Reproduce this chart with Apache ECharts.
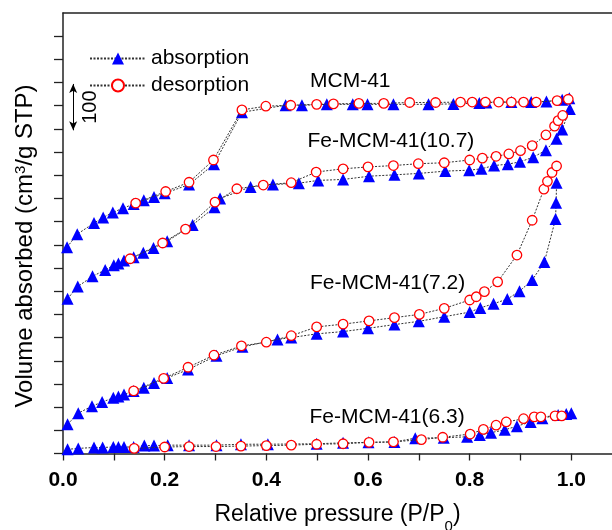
<!DOCTYPE html>
<html>
<head>
<meta charset="utf-8">
<script src="https://cdn.jsdelivr.net/npm/echarts@6/dist/echarts.min.js"></script>
<style>
  html, body { margin: 0; padding: 0; background: #ffffff; }
  #chart { width: 612px; height: 530px; }
</style>
</head>
<body>
<div id="chart"></div>
<script>
// N2 isotherms, curves offset vertically (cm3/g STP, offset included)
const sampleNames = ['MCM-41', 'Fe-MCM-41(10.7)', 'Fe-MCM-41(7.2)', 'Fe-MCM-41(6.3)'];

// MCM-41
const mcmAdsP = [0.008,0.028,0.061,0.079,0.098,0.118,0.139,0.159,0.179,0.200,0.248,0.297,0.352,0.438,0.470,0.519,0.570,0.599,0.650,0.719,0.768,0.819,0.833,0.882,0.921,0.951,0.982,0.996];
const mcmAdsV = [445,473,497,509,520,529,538,546,553,561,580,624,736,751,751,753,753,753,753,753,754,756,757,758,758,759,763,766];
const mcmDesP = [0.143,0.202,0.248,0.296,0.352,0.399,0.448,0.499,0.532,0.582,0.631,0.682,0.733,0.782,0.805,0.831,0.857,0.882,0.906,0.931,0.972,0.994];
const mcmDesV = [540,565,585,633,741,749,751,753,754,755,755,757,757,758,758,758,758,758,758,758,761,764];

// Fe-MCM-41(10.7)
const fe107AdsP = [0.009,0.029,0.058,0.083,0.100,0.109,0.120,0.139,0.158,0.178,0.205,0.255,0.298,0.309,0.369,0.413,0.464,0.502,0.551,0.602,0.652,0.700,0.752,0.799,0.823,0.848,0.875,0.899,0.925,0.950,0.971,0.982,0.997];
const fe107AdsV = [334,360,382,396,406,410,416,423,433,443,458,493,531,550,575,580,583,589,591,598,601,604,609,611,614,621,624,629,639,654,679,699,743];
const fe107DesP = [0.132,0.196,0.241,0.299,0.342,0.394,0.449,0.498,0.551,0.600,0.650,0.699,0.750,0.800,0.825,0.852,0.877,0.900,0.923,0.950,0.967,0.974,0.983];
const fe107DesV = [420,454,484,542,571,579,584,607,614,618,621,625,627,633,637,641,646,653,664,687,706,718,729];

// Fe-MCM-41(7.2)
const fe72AdsP = [0.009,0.030,0.057,0.077,0.099,0.109,0.120,0.139,0.159,0.179,0.205,0.246,0.302,0.353,0.422,0.449,0.499,0.551,0.600,0.652,0.700,0.750,0.800,0.821,0.847,0.874,0.898,0.923,0.947,0.969,0.970,0.971];
const fe72AdsV = [63,87,102,111,120,123,127,135,142,152,163,181,211,230,246,250,258,263,270,278,285,295,305,314,323,333,350,374,413,506,541,584];
const fe72DesP = [0.139,0.198,0.246,0.297,0.351,0.400,0.449,0.499,0.551,0.602,0.652,0.701,0.750,0.800,0.813,0.829,0.855,0.893,0.923,0.946,0.953,0.962,0.971];
const fe72DesV = [135,162,186,212,232,240,254,273,279,286,293,300,313,331,338,349,370,428,503,570,587,606,620];

// Fe-MCM-41(6.3)
const fe63AdsP = [0.009,0.030,0.061,0.078,0.099,0.109,0.120,0.139,0.160,0.179,0.206,0.248,0.302,0.350,0.403,0.499,0.551,0.601,0.652,0.693,0.749,0.795,0.820,0.842,0.869,0.893,0.920,0.943,0.974,0.990,1.000];
const fe63AdsV = [9,11,13,13,14,14,14,14,17,17,18,18,18,20,20,21,23,24,25,33,34,36,40,45,51,59,68,76,83,85,87];
const fe63DesP = [0.140,0.200,0.248,0.301,0.350,0.400,0.449,0.499,0.551,0.602,0.650,0.705,0.747,0.801,0.827,0.852,0.872,0.906,0.927,0.940,0.968,0.981];
const fe63DesV = [11,14,15,15,16,17,18,20,21,24,25,30,35,42,52,61,68,75,79,79,81,81];

const xTickLabels = ['0.0', '0.2', '0.4', '0.6', '0.8', '1.0'];
const yTickValues = [0,50,100,150,200,250,300,350,400,450,500,550,600,650,700,750,800,850,900];
const scaleBarValue = 100;

const FONT = "'Liberation Sans', Arial, Helvetica, sans-serif";
const AXIS_COLOR = '#222';

function pairs(p, v) { return p.map((x, i) => [x, v[i]]); }

const lineStyle = { color: '#333333', width: 1, type: [2, 1.5] };

function adsSeries(p, v, extra) {
  return Object.assign({
    name: 'absorption', type: 'line', data: pairs(p, v),
    symbol: 'triangle', symbolSize: 12, showAllSymbol: true,
    itemStyle: { color: '#0000ff' }, lineStyle: lineStyle, z: 3
  }, extra || {});
}
function desSeries(p, v) {
  return {
    name: 'desorption', type: 'line', data: pairs(p, v),
    symbol: 'circle', symbolSize: 9.5, showAllSymbol: true,
    itemStyle: { color: '#ffffff', borderColor: '#ff0000', borderWidth: 1.3 },
    lineStyle: lineStyle, z: 4
  };
}

const chart = echarts.init(document.getElementById('chart'), null, { renderer: 'canvas' });

const option = {
  animation: false,
  backgroundColor: '#ffffff',
  grid: { left: 63, top: 13, width: 549.7, height: 440.5, containLabel: false },
  legend: {
    data: ['absorption', 'desorption'],
    orient: 'vertical', left: 84, top: 43, padding: 5,
    itemWidth: 56, itemHeight: 15, itemGap: 6,
    textStyle: { fontFamily: FONT, fontSize: 21, color: '#000', lineHeight: 21 },
    selectedMode: false
  },
  xAxis: [{
    type: 'value', min: 0, max: 1.08, interval: 0.1,
    axisLine: { show: true, lineStyle: { color: AXIS_COLOR, width: 1.5 } },
    axisTick: { show: true, inside: false, length: 7, lineStyle: { color: AXIS_COLOR, width: 1.3 } },
    axisLabel: {
      show: true, margin: 16, fontFamily: FONT, fontSize: 21, fontWeight: 'bold', color: '#000', lineHeight: 21,
      showMaxLabel: false,
      formatter: function (v) { const s = v.toFixed(1); return xTickLabels.indexOf(s) >= 0 ? s : ''; }
    },
    splitLine: { show: false }
  }, {
    type: 'value', position: 'top', min: 0, max: 1.08,
    axisLine: { show: true, onZero: false, lineStyle: { color: AXIS_COLOR, width: 1.5 } },
    axisTick: { show: false }, axisLabel: { show: false }, splitLine: { show: false }
  }],
  yAxis: {
    type: 'value', min: 0, max: 950, interval: 50,
    axisLine: { show: true, lineStyle: { color: AXIS_COLOR, width: 1.5 } },
    axisTick: { show: true, inside: false, length: 9, customValues: yTickValues, lineStyle: { color: AXIS_COLOR, width: 1.3 } },
    axisLabel: { show: false },
    splitLine: { show: false }
  },
  series: [
    adsSeries(mcmAdsP, mcmAdsV, {
      markLine: {
        silent: true, symbol: ['arrow', 'arrow'], symbolSize: [6, 9],
        lineStyle: { color: '#000', width: 1, type: 'solid' },
        label: { show: false },
        data: [[{ coord: [0.02, 697] }, { coord: [0.02, 697 + scaleBarValue] }]]
      }
    }),
    adsSeries(fe107AdsP, fe107AdsV),
    adsSeries(fe72AdsP, fe72AdsV),
    adsSeries(fe63AdsP, fe63AdsV),
    desSeries(mcmDesP, mcmDesV),
    desSeries(fe107DesP, fe107DesV),
    desSeries(fe72DesP, fe72DesV),
    desSeries(fe63DesP, fe63DesV)
  ]
};

chart.setOption(option);

// Text annotations: sample names, scale-bar value and axis titles
const barMid = chart.convertToPixel({ gridIndex: 0 }, [0.02, 697 + scaleBarValue / 2]);
function txt(text, x, y, extra) {
  return {
    type: 'text', x: x, y: y, z: 10,
    style: Object.assign({
      text: text, fontFamily: FONT, fontSize: 21, fill: '#000',
      align: 'left', verticalAlign: 'middle', textAlign: 'left', textVerticalAlign: 'middle'
    }, extra || {})
  };
}
const labelPos = [[310, 81.5], [307.5, 141], [310, 283], [309.5, 417]];
const graphics = sampleNames.map((n, i) => txt(n, labelPos[i][0], labelPos[i][1]));

const hundred = txt(String(scaleBarValue), barMid[0] + 17, barMid[1], { align: 'center', textAlign: 'center', fontSize: 20 });
hundred.rotation = Math.PI / 2;
graphics.push(hundred);

const xTitle = txt('Relative pressure (P/P{sub|0})', 337.5, 515, {
  align: 'center', textAlign: 'center', fontSize: 23,
  rich: { sub: { fontFamily: FONT, fontSize: 15, fill: '#000', verticalAlign: 'bottom', padding: [24, 0, 0, 0] } }
});
graphics.push(xTitle);

const yTitle = txt('Volume absorbed (cm{sup|3}/g STP)', 25, 246, {
  align: 'center', textAlign: 'center', fontSize: 24,
  rich: { sup: { fontFamily: FONT, fontSize: 15, fill: '#000', verticalAlign: 'top' } }
});
yTitle.rotation = Math.PI / 2;
graphics.push(yTitle);

chart.setOption({ graphic: { elements: graphics } });
</script>
</body>
</html>
